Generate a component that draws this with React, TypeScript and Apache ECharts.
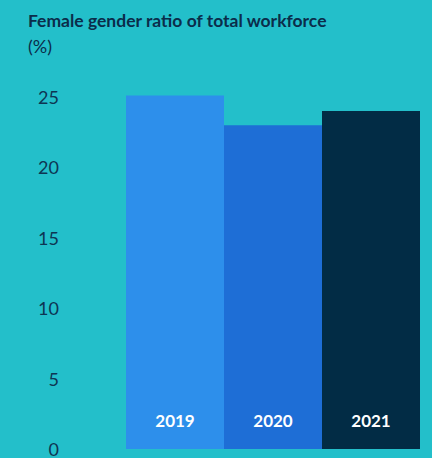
import React, { useEffect, useRef } from "react";
import * as echarts from "echarts";

const years = ["2019", "2020", "2021"];
const values = [25.1, 23.0, 24.0];
const barColors = ["#2D8FEB", "#1E6ED6", "#022C45"];
const yTicks = { min: 0, max: 25, interval: 5 };

export default function App() {
  const ref = useRef<HTMLDivElement>(null);
  useEffect(() => {
    document.body.style.margin = "0";
    document.body.style.overflow = "hidden";
    if (!ref.current) return;
    const chart = echarts.init(ref.current, undefined, { renderer: "svg" });
    chart.setOption({
      animation: false,
      backgroundColor: "#23BFCA",
      textStyle: { fontFamily: "Lato" },
      graphic: [
        {
          type: "text",
          left: 28,
          top: 11,
          style: {
            text: "Female gender ratio of total workforce",
            fontSize: 17.5,
            fontWeight: "bold",
            fill: "#0B2D4A",
            fontFamily: "Lato",
          },
        },
        {
          type: "text",
          left: 28,
          top: 37,
          style: {
            text: "(%)",
            fontSize: 18,
            fill: "#0B2D4A",
            fontFamily: "Lato",
          },
        },
      ],
      grid: { left: 126, right: 12, top: 97, bottom: 2 },
      xAxis: {
        type: "category",
        data: years,
        axisLine: { show: false },
        axisTick: { show: false },
        axisLabel: { show: false },
      },
      yAxis: {
        type: "value",
        min: yTicks.min,
        max: yTicks.max,
        interval: yTicks.interval,
        splitLine: { show: false },
        axisLine: { show: false },
        axisTick: { show: false },
        axisLabel: { margin: 67, fontSize: 18, color: "#0E3553", fontFamily: "Lato" },
      },
      series: [
        {
          type: "bar",
          clip: false,
          barCategoryGap: 0,
          data: values.map((v, i) => ({ value: v, itemStyle: { color: barColors[i] } })),
          label: {
            show: true,
            position: "insideBottom",
            distance: 20,
            formatter: (p: any) => years[p.dataIndex],
            color: "#FFFFFF",
            fontWeight: "bold",
            fontSize: 17,
            fontFamily: "Lato",
          },
        },
      ],
    });
    return () => chart.dispose();
  }, []);
  return <div ref={ref} style={{ width: 432, height: 458 }} />;
}
